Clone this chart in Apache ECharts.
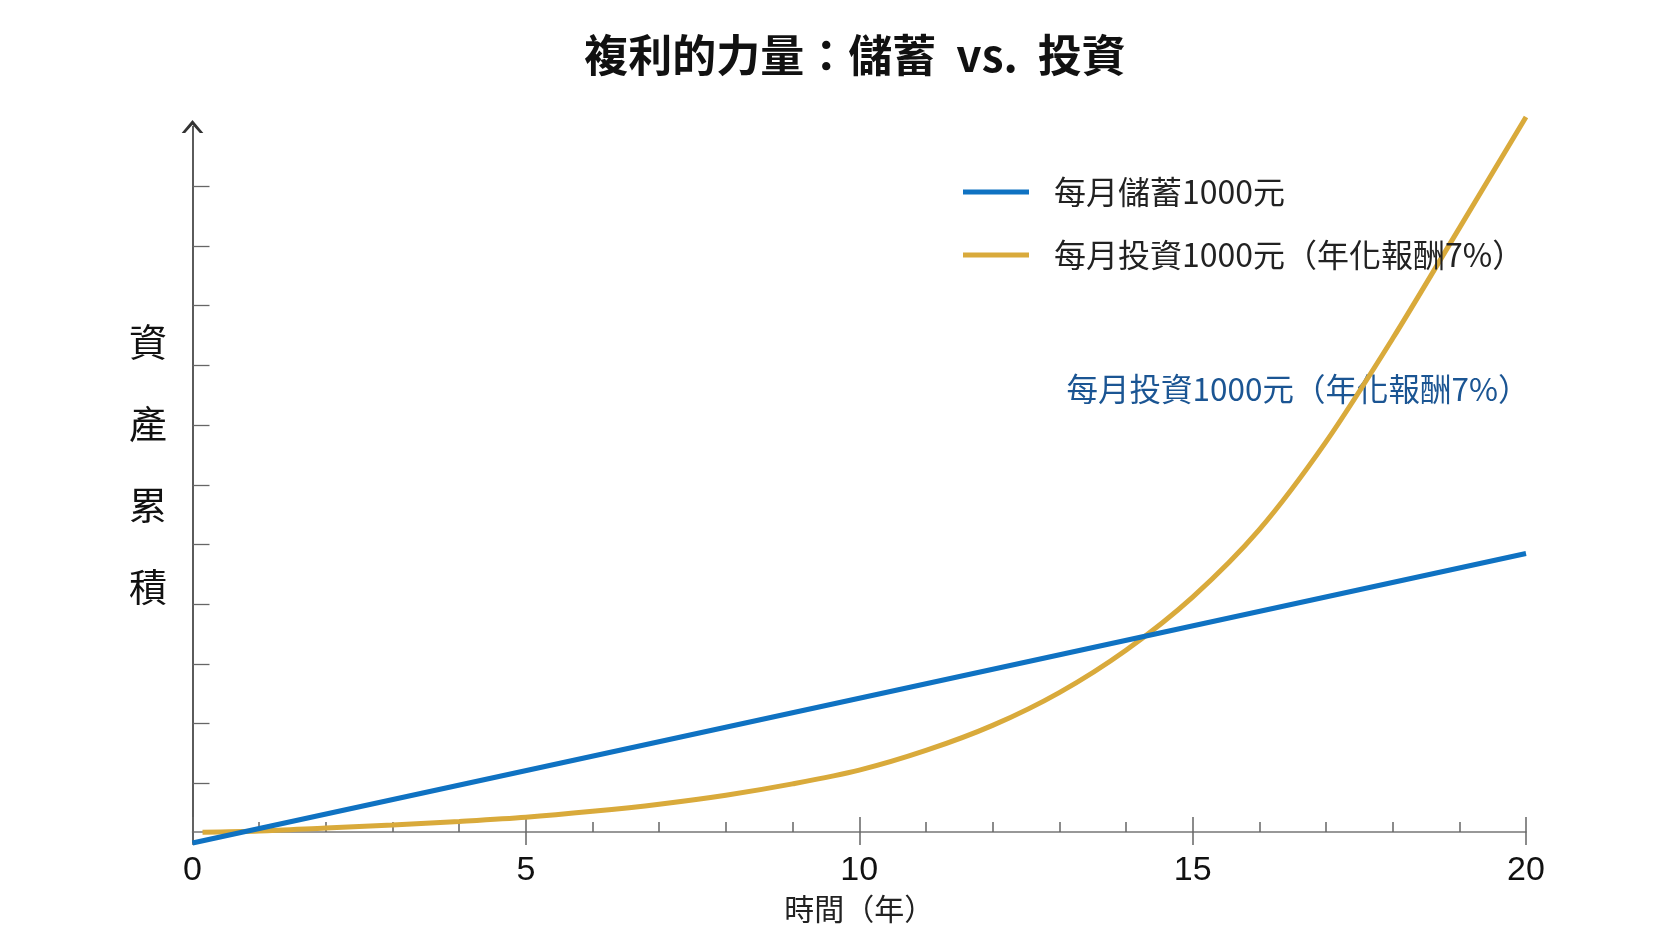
<!DOCTYPE html>
<html>
<head>
<meta charset="utf-8">
<script src="https://cdn.jsdelivr.net/npm/echarts@6/dist/echarts.min.js"></script>
<style>
  html, body { margin: 0; padding: 0; background: #fff; }
  #main { width: 1666px; height: 937px; }
</style>
</head>
<body>
<div id="main"></div>
<script>
// 資料
var savingName = '每月儲蓄1000元';
var investName = '每月投資1000元（年化報酬7%）';
var savingYears = [0, 20];
var savingValues = [0, 4.85];
var investYears = [0.15, 1, 2, 3, 4, 5, 6, 7, 8, 9, 10, 11, 12, 13, 14, 15, 16, 17, 18, 19, 20];
var investValues = [0.18, 0.2, 0.25, 0.3, 0.36, 0.43, 0.53, 0.65, 0.8, 0.99, 1.22, 1.55, 1.97, 2.52, 3.23, 4.12, 5.25, 6.72, 8.45, 10.3, 12.16];
var yTickValues = [1, 2, 3, 4, 5, 6, 7, 8, 9, 10, 11];

function pairs(xs, ys) {
  var out = [];
  for (var i = 0; i < xs.length; i++) out.push([xs[i], ys[i]]);
  return out;
}

var cjk = "'Noto Sans CJK TC', 'Noto Sans CJK SC', sans-serif";
var chart = echarts.init(document.getElementById('main'));

var option = {
  backgroundColor: '#fff',
  animation: false,
  legend: {
    data: [savingName, investName],
    orient: 'vertical',
    left: 958,
    top: 171,
    itemWidth: 66,
    itemHeight: 5,
    itemGap: 31,
    icon: 'rect',
    textStyle: { fontFamily: cjk, fontSize: 32, color: '#222', lineHeight: 30, padding: [0, 0, 0, 20] }
  },
  grid: { left: 192.5, right: 140, top: 126.6, bottom: 94 },
  xAxis: [
    {
      type: 'value',
      min: 0,
      max: 20,
      interval: 5,
      offset: -11,
      name: '時間（年）',
      nameLocation: 'middle',
      nameGap: 62,
      nameTextStyle: { fontFamily: cjk, fontSize: 30, color: '#222' },
      axisLine: { show: true, onZero: false, lineStyle: { color: '#777', width: 1.5 } },
      axisTick: { show: true, inside: true, length: 15, lineStyle: { color: '#666', width: 1.5 } },
      minorTick: { show: true, splitNumber: 5, length: 10, lineStyle: { color: '#666', width: 1.5 } },
      axisLabel: {
        margin: 22,
        fontFamily: "'Liberation Sans Narrow', 'Liberation Sans', sans-serif",
        fontSize: 34,
        color: '#111'
      },
      splitLine: { show: false }
    },
    {
      type: 'value',
      min: 0,
      max: 20,
      interval: 5,
      position: 'bottom',
      offset: -11,
      axisLine: { show: false, onZero: false },
      axisTick: { show: true, inside: false, length: 13, lineStyle: { color: '#666', width: 1.5 } },
      axisLabel: { show: false },
      splitLine: { show: false }
    }
  ],
  yAxis: {
    type: 'value',
    min: 0,
    max: 12,
    axisLine: {
      show: true,
      onZero: false,
      symbol: ['none', 'path://M0,12 L10,0 L20,12 L16.8,12 L10,4.2 L3.2,12 Z'],
      symbolSize: [22, 13],
      lineStyle: { color: '#333', width: 1.6 }
    },
    axisTick: { show: true, inside: true, length: 17, customValues: yTickValues, lineStyle: { color: '#666', width: 1.3 } },
    axisLabel: { show: false },
    splitLine: { show: false }
  },
  graphic: [
    {
      type: 'text',
      x: 855,
      y: 55,
      style: {
        text: '複利的力量：儲蓄  vs.  投資',
        fontFamily: cjk,
        fontSize: 44,
        fontWeight: 'bold',
        fill: '#111',
        align: 'center',
        verticalAlign: 'middle'
      }
    },
    {
      type: 'text',
      x: 148,
      y: 464,
      style: {
        text: '資\n產\n累\n積',
        fontFamily: cjk,
        fontSize: 38,
        lineHeight: 81.5,
        fill: '#111',
        align: 'center',
        verticalAlign: 'middle'
      }
    },
    {
      type: 'text',
      x: 1298,
      y: 389,
      style: {
        text: investName,
        fontFamily: cjk,
        fontSize: 31.5,
        fill: '#1b5593',
        align: 'center',
        verticalAlign: 'middle'
      }
    }
  ],
  series: [
    {
      name: investName,
      type: 'line',
      xAxisIndex: 0,
      data: pairs(investYears, investValues),
      smooth: 0.3,
      showSymbol: false,
      clip: false,
      color: '#d9aa3b',
      lineStyle: { color: '#d9aa3b', width: 5 }
    },
    {
      name: savingName,
      type: 'line',
      xAxisIndex: 0,
      data: pairs(savingYears, savingValues),
      showSymbol: false,
      clip: false,
      color: '#0f72c2',
      lineStyle: { color: '#0f72c2', width: 5 }
    }
  ]
};
chart.setOption(option);
</script>
</body>
</html>
